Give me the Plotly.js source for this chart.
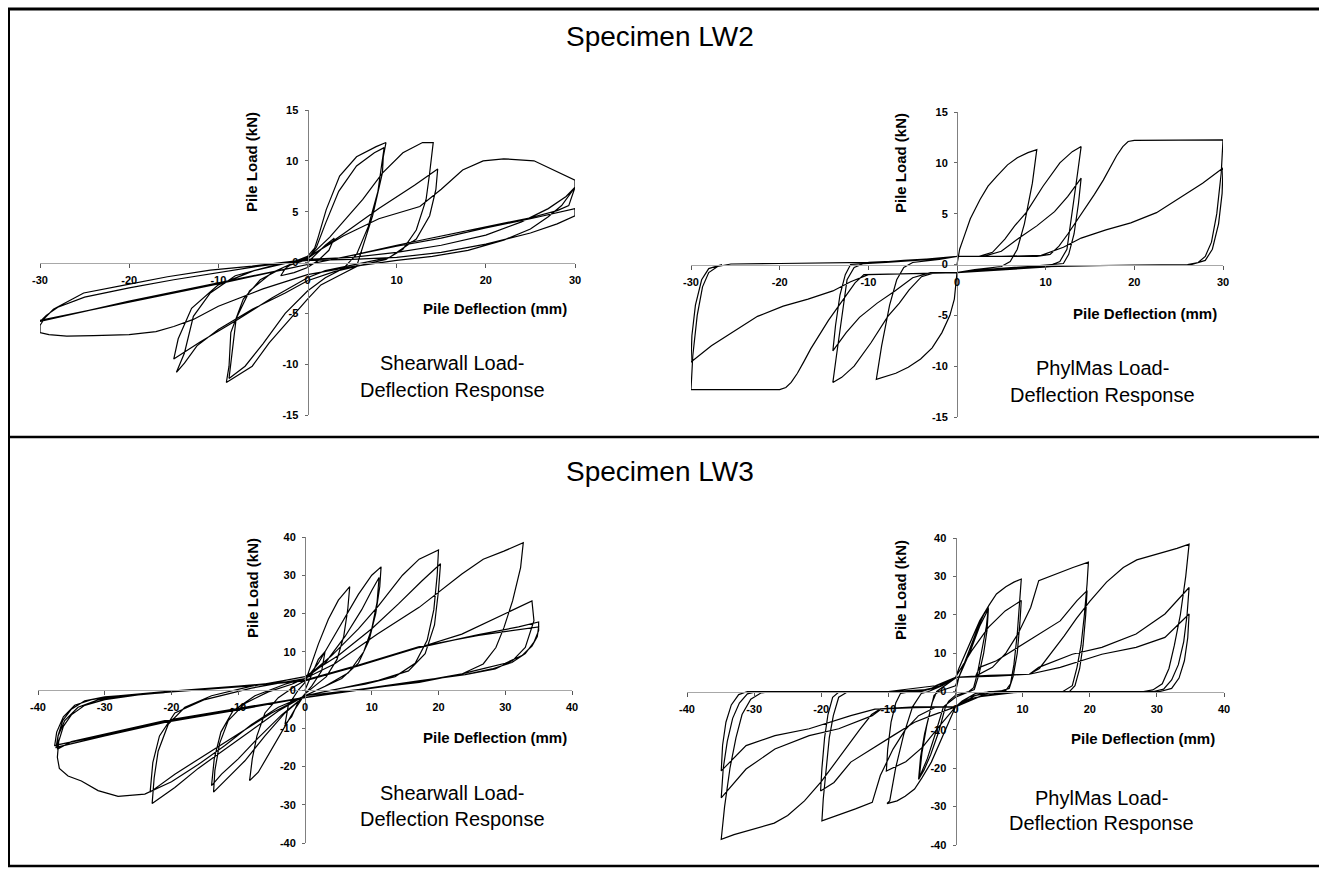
<!DOCTYPE html>
<html><head><meta charset="utf-8">
<script src="https://cdn.plot.ly/plotly-3.0.1.min.js"></script>
<style>html,body{margin:0;padding:0;background:#fff;}#chart{width:1319px;height:869px;}</style>
</head><body><div id="chart"></div>
<script>
// ---------- tick labels ----------
const ticks30 = [-30, -20, -10, 0, 10, 20, 30];
const ticks15 = [-15, -10, -5, 0, 5, 10, 15];
const ticks40 = [-40, -30, -20, -10, 0, 10, 20, 30, 40];

// ---------- Specimen LW2 : Shearwall (deflection mm, load kN) ----------
const lw2ShearX = [
  0,1,2,3,2.4,1.2,0,-1.5,-3,-2.5,-1.2,0,
  0.8,1.2,2.1,3.6,5.5,7.7,8.8, 8.5,8.4,7.3,6.2,5.5,3.5,1.5,0, -2,-4.3,-6.2,-8.1,-9.1, -8.8,-8.6,-7.2,-5.3,-2.5,0,
  1,2,3.5,5.5,7.5,8.6, 8.3,7.9,6.8,5.5,4,2,0, -2.5,-5,-7,-8.8, -8.5,-8,-6.5,-4,-1.5,0,
  2.5,4.5,6.2,8.4,10.7,12.9,14.1, 13.7,13.3,12.2,10.7,8.8,6,3,0, -2.5,-6.2,-10,-12.4,-13.8,-14.7, -13.8,-12.8,-10.9,-8.1,-4.3,0,
  4,8,12,14.6, 14.4,13.7,12.2,9.2,5,2,0, -4,-8,-12,-15, -14.5,-13,-10,-6,-2,0,
  4,8,12.6,15,17.4,19.7,22,25.4,28.2,30, 30,28.5,27,25,22,18,14,10,5,0, -5,-10,-12.8,-15,-17,-20,-24,-27,-29,-30, -30,-29.5,-28.5,-25.1,-20.4,-15.7,-10.9,-6.2,-1.5,0,
  5,10,15,20,24,27,29,30, 29.3,28,25,20,15,10,5,0,-5,-10,-15,-20,-25,-30, -29.3,-28,-25,-20,-15,-10,-5,0,
  5,10,15,20,25,28,30, 30,25,20,15,10,5,0,-10,-20,-30
];
const lw2ShearY = [
  0,0.9,1.7,2.4,1.2,0.2,-0.5,-1.0,-1.3,-0.6,0.2,0.6,
  1.4,2.5,5.2,8.5,10.4,11.4,11.8, 10.4,8.8,4.6,1.6,-0.4,-1.3,-2.2,-3.6, -5.6,-7.9,-10.2,-11.2,-11.8, -10.2,-6.9,-3.6,-1.7,-0.4,0.3,
  1.5,3.8,7,9.5,10.8,11.3, 9.5,7,3.5,0.8,-0.6,-1.5,-2.8, -5,-8,-10.2,-11.4, -9,-5.5,-2.8,-1,0,0.4,
  2.5,4.5,6.2,8.8,10.8,11.8,11.8, 8.8,6.2,3.2,1.3,0.3,-0.3,-0.9,-1.8, -3,-4.6,-6.6,-8.2,-9.9,-10.8, -8.9,-5.3,-3,-1.3,-0.4,0.4,
  2.8,5.3,7.6,9.2, 7.2,4.6,2.3,0.5,-0.3,-0.8,-1.5, -3.5,-5.7,-7.8,-9.5, -7.5,-4.5,-2.2,-0.8,0,0.5,
  2.6,4.3,5.5,7.2,9.1,10,10.2,10,8.8,8.1, 7.4,5.6,4.5,3.3,2.2,1.2,0.6,0.2,-0.4,-1.2, -2.6,-4.3,-5.6,-6.3,-6.8,-7.1,-7.2,-7.25,-7.1,-6.9, -6.2,-5.5,-4.6,-3.0,-2.2,-1.4,-0.75,-0.36,0.13,0.3,
  0.5,1.0,1.7,2.7,4.0,5.3,6.5,7.4, 5.6,5.1,4.4,3.5,2.6,1.7,0.7,-0.2,-1.1,-2,-2.9,-3.8,-4.8,-5.8, -5.2,-4.4,-3.4,-2.5,-1.7,-1,-0.3,0.2,
  0.3,0.5,1.0,1.8,2.9,3.8,4.6, 5.3,4.3,3.4,2.4,1.6,0.7,-0.2,-2.1,-3.9,-5.7
];

// ---------- Specimen LW2 : PhylMas ----------
const lw2PhylX = [
  0,0.3,0.7,1.5,2.6,3.5,4.5,5.7,6.8,8,9, 8.5,7.6,6.8,6,5, 2,0, -0.3,-0.8,-1.7,-2.8,-4.1,-5.5,-6.9,-8.2,-9.1, -8.5,-7.6,-6.8,-6,-5, -2,0,
  2.5,4,5.4,6.5,7.8,9.7,11.6,13,14, 13.6,13,12.4,11.6,10.5, 6,2,0,-2.5, -4,-5.4,-6.5,-7.8,-9.7,-11.6,-13,-14, -13.6,-13,-12.4,-11.6,-10.5, -6,-2,0,3,
  5,7,9,11,12.5,14, 13.7,13.2,12.6,12, 8,3,0,-3, -5,-7,-9,-11,-12.5,-14, -13.7,-13.2,-12.6,-12, -8,-3,0,5,9,
  10.5,11.5,12.5,13.5,14.5,15.5,16.5,17.3,18,18.7,19.3,20,25,30, 29.8,29.3,28.7,28,27.2,26, 20,15,10,5,0,-5,-9.5,
  -10.5,-11.5,-12.5,-13.5,-14.5,-15.5,-16.5,-17.3,-18,-18.7,-19.3,-20,-25,-30, -29.8,-29.3,-28.7,-28,-27,-25.5, -20,-15,-10,-5,0,5,9.5,
  12,14,16.8,19.6,22.5,25.3,27.7,30, 29.9,29.5,28.8,28,26.5, 20,12,0,-10, -12,-14,-16.8,-19.6,-22.5,-25.3,-27.7,-30, -29.9,-29.5,-28.8,-28,-26.5
];
const lw2PhylY = [
  0,1.5,2.5,4.5,6.4,7.7,8.7,9.8,10.5,11,11.3, 8,4,1.5,0.3,-0.2, -0.5,-0.8, -3.4,-5,-6.7,-8.2,-9.3,-10.1,-10.7,-11.1,-11.3, -8,-4,-1.5,-0.3,0.2, 0.5,0.8,
  0.8,1.2,2.5,3.8,5.1,7.7,10,11.1,11.6, 9,5,1.5,0.3,-0.1, -0.4,-0.6,-0.8,-0.8, -1.2,-2.5,-3.8,-5.1,-7.7,-10,-11.1,-11.6, -9,-5,-1.5,-0.3,0.1, 0.4,0.6,0.8,0.8,
  1.3,2.6,3.8,5.2,6.7,8.5, 6,3,1,0.1, -0.2,-0.5,-0.8,-0.8, -1.3,-2.6,-3.8,-5.2,-6.7,-8.5, -6,-3,-1,0, 0.2,0.5,0.8,0.8,0.8,
  1,1.8,3,4.3,5.5,6.9,8.3,9.6,10.7,11.6,12.1,12.2,12.25,12.25, 9,5,2.2,0.8,0.2,0, -0.05,-0.1,-0.2,-0.4,-0.8,-0.9,-1.0,
  -1.0,-1.8,-3,-4.3,-5.5,-6.9,-8.3,-9.6,-10.7,-11.6,-12.1,-12.3,-12.3,-12.3, -9,-5,-2.2,-0.8,-0.2,0.05, 0.1,0.15,0.2,0.4,0.8,0.8,0.9,
  1.7,2.6,3.4,4.1,5.1,6.7,8,9.5, 7,4,1.5,0.4,0, -0.05,-0.15,-0.8,-1.0, -1.7,-2.6,-3.4,-4.1,-5.1,-6.7,-8,-9.6, -7,-4,-1.5,-0.4,0
];

// ---------- Specimen LW3 : Shearwall ----------
const lw3ShearX = [
  0,1,2,3,2.5,1,-1,-2,-3,-2.5,-1,0,
  0.8,2,3.5,5,6.7, 6.4,5.8,4.8,3.2,1,0, -1.5,-3.5,-5.5,-7,-8.3, -7.9,-7.2,-6,-4,-1.5,0,
  2,4,6,8,10,11.4, 11.2,10.6,9.6,8,5.5,2.5,0, -3,-6,-9,-11.5,-13.7, -13.5,-12.8,-11.5,-9,-5.5,-2,0,
  3,6,8.5,10,11.1, 10.8,10,8.8,6.5,3,0, -3.5,-7,-10,-12.5,-14, -13.6,-12.6,-10.8,-7.5,-3,0,
  4,8,11,14.6,17.1,20, 19.8,19.3,18.3,16.5,13.5,9,4,0, -4,-8,-12,-16,-19.5,-22.9, -22.6,-22,-20.5,-18,-14,-8,-3,0,
  5,10,14,17.5,20.3, 20,19.4,18,15.5,11,5,0, -5,-10,-15,-19.5,-23.2, -22.8,-21.8,-19.5,-15,-8,0,
  4.4,10.8,17.1,23.5,26.7,29.8,32.7, 32.3,31.1,29.8,28.6,26.7,23.5,17.1,10.8,5,0, -4,-8,-12,-16,-20,-24,-28,-31,-33.5,-35.5,-36.8,-37.1, -36.9,-36.2,-35,-33,-30,-25,-20,-10,0,
  8,17.1,23.5,29.8,34, 34.3,33.6,33,31.1,28.5,24,17.1,8,0,-10,-21,-30,-35,-37.1, -37,-36.3,-35,-33,-30,-21,-10,0,
  8,17.1,26,32,35, 35,34.3,33,31,28,24,17,8,0,-10,-21,-30,-37.5, -37.2,-36.2,-34.5,-32,-28,-21,-10,0,
  8,17,26,32,35, 34.8,34,32.5,30,26.7,23.5,17,8,0,-10,-21,-30,-37.3, -37,-36,-34,-31,-27,-21
];
const lw3ShearY = [
  0,4,8,10,5,1,-3,-7,-9,-4,0,2,
  6,12,18.5,23.5,27, 21,14,8,3.5,0.5,-1, -5,-11,-17,-21.5,-23.7, -18,-12,-6,-2,1,2.5,
  7,13,19,25,30,32.2, 27,20,13,7,3,0.5,-1.5, -6,-12,-18.5,-23,-26.7, -21,-14,-8,-3.5,-0.5,1.5,3,
  7,14,21,26,29.4, 23,16,10,4.5,1,-1.5, -6.5,-12.5,-18,-22,-25, -18,-11,-5.5,-1.5,1.5,3,
  9,16,22,30,34.2,36.6, 30,21,13,7,3.5,1.5,0,-1.5, -5.5,-10.5,-15.5,-20.5,-25.5,-29.7, -23,-16,-9,-4.5,-1.5,1,2.5,3.5,
  9,16,22.5,28.5,33, 26,17,9.5,5,2.5,0.3,-1.5, -6,-11.5,-17,-22,-26.7, -19,-12,-6,-2.5,0.5,3,
  6.8,14.6,21.6,30.3,34.2,36.3,38.5, 32,23.3,16.3,11.1,6.8,4.2,2,0.7,-0.5,-1.5, -4.5,-9,-14.5,-19.5,-24,-27.2,-27.8,-26.3,-23.8,-22.5,-20.5,-17.6, -13.5,-9.5,-6.5,-4,-2.5,-1.3,-0.5,0.8,2.4,
  6.5,11.1,14.6,19.8,23.3, 18.1,14,11.1,7.7,5.5,4,2.4,0,-1.9,-4.8,-8,-11.5,-13.5,-15.5, -12,-8,-5,-2.8,-1.8,-0.6,0.8,2.4,
  6.3,11.1,14.5,16.5,17.8, 15.5,12.5,9.5,7.2,5.5,4,2.4,0.2,-1.9,-5,-8.3,-11.8,-14.5, -11,-7,-4,-2.5,-1.5,-0.4,1,2.6,
  6.5,11.3,14.3,15.8,16.5, 14,11.5,9,7,5.6,4.2,2.2,0,-2,-5.2,-8.5,-12,-15, -12,-8,-4.5,-2.6,-1.5,-0.7
];

// ---------- Specimen LW3 : PhylMas ----------
const lw3PhylX = [
  0,0.5,2,3.3,4.2,4.9, 4.6,4,3.3,2.7,2,0,-1,-1.5, -2.5,-3.7,-4.7,-5.5, -5.2,-4.6,-3.8,-3.2,-2.5,0,0.5,
  2.2,3.6,4.9, 4.7,4.2,3.5,2.8,0,-1.8, -3,-4.2,-5.4, -5,-4.3,-3.5,-2.8,0,
  0.5,2,3.6,5,6.1,7.5,8.7,9.8, 9.6,9.2,8.7,8.2,7.5,6, 3,1,0, -0.5,-2,-3.6,-5,-6.1,-7.5,-8.7,-10.2, -9.8,-8.9,-7.7,-6.4,-5.1,-4, -2,0,
  2.4,4.9,7.4,9.8, 9.6,9.2,8.6,8,6.5, 3,0, -2.4,-4.9,-7.4,-10.3, -10.1,-9.6,-8.9,-8.2,-6.5, -3,0,
  3,5.5,7.5,9.3,11.2,12.4,14.9,17.5,19.8, 19.6,19.2,18.7,18.1,17.4,16, 10,5,2,0,-3,-5.5, -7.5,-9.3,-11.2,-12.4,-14.9,-17.5,-19.9, -19.7,-19.3,-18.8,-18.2,-17.4,-16, -10,-5,-2,0,3,
  3.6,6.1,9.3,12.4,15.6,18.1,19.6, 19.4,19,18.5,17.8,17, 10,4,0, -3.6,-6.1,-9.3,-12.4,-15.6,-18.1,-20.1, -19.9,-19.5,-19,-18.3,-17.3, -10,-4,0,5,11,
  12.5,14.3,16.2,18,20,22.5,25,27,29,31.2,33,34.8, 34.3,33.5,32.6,31.8,30.8,29.4,28, 20,12,6,2,0,-6,-11.2, -12.5,-14.3,-16.2,-18,-20,-22.5,-25,-27,-29,-31.2,-33,-34.9, -34.4,-33.6,-32.7,-31.8,-30.5,-29,-27.5, -20,-10,-5,-2,0,6,11,
  12.4,17.4,21.8,26.9,31.2,34.8, 34.5,34,33.2,32.2,31,29.5, 20,10,3,0,-6,-11, -12.4,-17.4,-21.8,-26.9,-31.2,-34.9, -34.6,-34,-33.2,-32.2,-31,-29.5, -20,-10,-3,0,6,11,
  15.6,21.8,26.9,31.2,34.8, 34.6,34.1,33.3,32.2,30.5, 20,10,3,0,-6,-12, -15.6,-21.8,-26.9,-31.2,-34.9, -34.7,-34.2,-33.4,-32.3,-31, -28
];
const lw3PhylY = [
  0,3.7,10.5,16.5,20,21.9, 17,11,5,1,0,-1,-2.5,-4, -10.5,-16.5,-20.5,-22.9, -17,-11,-5.5,-1,0,1.5,3.7,
  10.5,17,21.5, 16,10,4.5,0.5,-1.5,-4, -11,-17.5,-22.5, -16,-9,-3,0,3.5,
  6,12,18.4,22.5,25.4,27.3,28.5,29.3, 24,15,7,2,0.3,0, -0.5,-2.5,-4, -6,-12,-18.4,-22.5,-25.4,-27.3,-28.5,-29.2, -28.5,-19.8,-11.1,-4,-0.5,0, 1.5,3.7,
  10.6,16.7,21,23.7, 18,10,4,0.8,0, -1,-4, -9,-14.5,-18.3,-20.7, -15,-8,-3,-0.5,0, 0.8,3.7,
  4,6.3,10,15,21.9,28.9,30.6,32.3,33.7, 28,20,12,6.3,1.5,0, 0,0,-1.5,-4,-4.1,-6.3, -10,-15,-21.9,-28.9,-30.6,-32.3,-33.7, -28,-20,-12,-6.3,-1.5,0, 0,0,1.5,3.7,4,
  6.3,8,11.5,15,18.4,23.7,26.3, 20,12,6,1.5,0, 0,-1,-4, -6.3,-8,-11.5,-15,-18.4,-23.7,-25.9, -20,-12,-6,-1.5,0, 0,0.5,3.7,4.2,4.5,
  6,10,14.5,19,23.5,28.5,32.3,34.3,35.3,36.3,37.3,38.4, 30,20,12,6,2,0.4,0, 0,0,-0.5,-2,-4,-4,-4.5, -6,-10,-14.5,-19,-23.5,-28.5,-32.3,-34.3,-35.3,-36.3,-37.3,-38.5, -30,-20,-12,-6,-2,-0.4,0, 0,0,0.3,1.5,3.7,4,4.5,
  6.3,9.7,11.5,15,20.2,27.1, 20,13,7,3,0.6,0, 0,0,-1.5,-4,-4.2,-4.5, -6.3,-9.7,-11.5,-15,-20.2,-27.7, -20,-13,-7,-3,-0.6,0, 0,0,1.5,3.7,4.2,4.5,
  6.3,9.7,11.5,14.1,20.2, 14,8,3.5,0.8,0, 0,0,-1.5,-4,-4.2,-4.6, -6.3,-9.7,-11.5,-14.1,-20.7, -14,-8,-3.5,-0.8,0, 0
];

// ---------- layout helpers (positions in page pixels) ----------
const W = 1319, H = 869;
const FONT = 'Arial, "Liberation Sans", Helvetica, sans-serif';
const px = v => v / W;
const py = v => 1 - v / H;

const panels = [
  {x: lw2ShearX, y: lw2ShearY, xl: [40, 575],  yt: [110, 415], xr: [-30, 30], yr: [-15, 15], xt: ticks30, ytk: ticks15,
   ylab: [251, 162], xlab: [495, 308], note: ['Shearwall Load-', 'Deflection Response'], noteX: 452, noteY: [363, 390]},
  {x: lw2PhylX, y: lw2PhylY, xl: [691, 1223], yt: [112, 417], xr: [-30, 30], yr: [-15, 15], xt: ticks30, ytk: ticks15,
   ylab: [900, 163], xlab: [1145, 313], note: ['PhylMas Load-', 'Deflection Response'], noteX: 1102, noteY: [368, 395]},
  {x: lw3ShearX, y: lw3ShearY, xl: [38, 572],  yt: [537, 843], xr: [-40, 40], yr: [-40, 40], xt: ticks40, ytk: ticks40,
   ylab: [252, 588], xlab: [495, 737], note: ['Shearwall Load-', 'Deflection Response'], noteX: 452, noteY: [793, 819]},
  {x: lw3PhylX, y: lw3PhylY, xl: [687, 1224], yt: [538, 845], xr: [-40, 40], yr: [-40, 40], xt: ticks40, ytk: ticks40,
   ylab: [900, 590], xlab: [1143, 738], note: ['PhylMas Load-', 'Deflection Response'], noteX: 1101, noteY: [798, 823]}
];

const layout = {
  width: W, height: H, margin: {l: 0, r: 0, t: 0, b: 0},
  paper_bgcolor: '#fff', plot_bgcolor: 'rgba(0,0,0,0)', showlegend: false,
  font: {family: FONT, color: '#000'},
  annotations: [], shapes: []
};
const traces = [];
const tickFont = {family: FONT, size: 11, color: '#000', weight: 'bold'};

panels.forEach((p, i) => {
  const n = i === 0 ? '' : String(i + 1);
  const dx = [px(p.xl[0]), px(p.xl[1])];
  const dy = [py(p.yt[1]), py(p.yt[0])];
  const xPos = dx[0] + (0 - p.xr[0]) / (p.xr[1] - p.xr[0]) * (dx[1] - dx[0]);
  const yPos = dy[0] + (0 - p.yr[0]) / (p.yr[1] - p.yr[0]) * (dy[1] - dy[0]);
  layout['xaxis' + n] = {
    domain: dx, range: p.xr, anchor: 'free', position: yPos, fixedrange: true,
    showline: true, linecolor: '#a8a8a8', linewidth: 1, showgrid: false, zeroline: false,
    ticks: 'outside', ticklen: 4, tickwidth: 1, tickcolor: '#555',
    tickvals: p.xt, ticktext: p.xt.map(String), tickfont: tickFont, ticklabelstandoff: 3
  };
  layout['yaxis' + n] = {
    domain: dy, range: p.yr, anchor: 'free', position: xPos, fixedrange: true,
    showline: true, linecolor: '#808080', linewidth: 1, showgrid: false, zeroline: false,
    ticks: 'outside', ticklen: 3, tickwidth: 1, tickcolor: '#666',
    tickvals: p.ytk, ticktext: p.ytk.map(String), tickfont: tickFont, ticklabelstandoff: 4
  };
  traces.push({
    type: 'scatter', mode: 'lines', x: p.x, y: p.y,
    xaxis: 'x' + n, yaxis: 'y' + n,
    line: {color: '#000', width: 1.2}, hoverinfo: 'skip'
  });
  layout.annotations.push(
    {xref: 'paper', yref: 'paper', x: px(p.ylab[0]), y: py(p.ylab[1]), text: '<b>Pile Load (kN)</b>',
     textangle: -90, showarrow: false, xanchor: 'center', yanchor: 'middle', font: {family: FONT, size: 15, color: '#000'}},
    {xref: 'paper', yref: 'paper', x: px(p.xlab[0]), y: py(p.xlab[1]), text: '<b>Pile Deflection (mm)</b>',
     showarrow: false, xanchor: 'center', yanchor: 'middle', font: {family: FONT, size: 15, color: '#000'}},
    {xref: 'paper', yref: 'paper', x: px(p.noteX), y: py(p.noteY[0]), text: p.note[0],
     showarrow: false, xanchor: 'center', yanchor: 'middle', font: {family: FONT, size: 20, color: '#000'}},
    {xref: 'paper', yref: 'paper', x: px(p.noteX), y: py(p.noteY[1]), text: p.note[1],
     showarrow: false, xanchor: 'center', yanchor: 'middle', font: {family: FONT, size: 20, color: '#000'}}
  );
});

layout.annotations.push(
  {xref: 'paper', yref: 'paper', x: px(660), y: py(36), text: 'Specimen LW2', showarrow: false,
   xanchor: 'center', yanchor: 'middle', font: {family: FONT, size: 28, color: '#000'}},
  {xref: 'paper', yref: 'paper', x: px(660), y: py(471), text: 'Specimen LW3', showarrow: false,
   xanchor: 'center', yanchor: 'middle', font: {family: FONT, size: 28, color: '#000'}}
);

const frame = (x0, y0, x1, y1, w) => ({type: 'line', xref: 'paper', yref: 'paper',
  x0: px(x0), y0: py(y0), x1: px(x1), y1: py(y1), line: {color: '#000', width: w}});
layout.shapes.push(
  frame(8, 9, 1319, 9, 3),
  frame(8, 437, 1319, 437, 2.5),
  frame(8, 866, 1319, 866, 2.5),
  frame(9, 9, 9, 866, 2)
);

Plotly.newPlot('chart', traces, layout, {staticPlot: true, displayModeBar: false});
</script></body></html>
